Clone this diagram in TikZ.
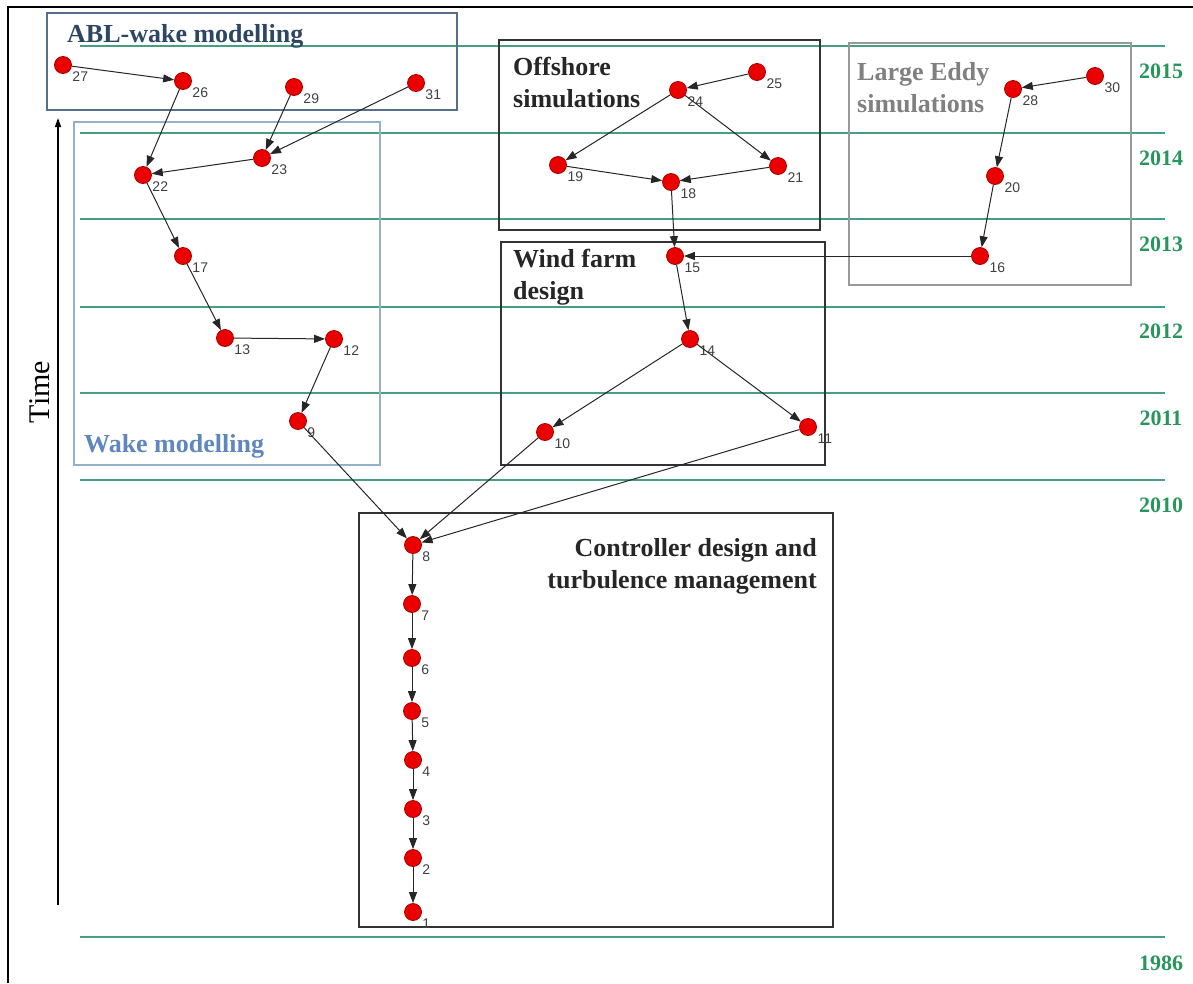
\documentclass[tikz,border=0pt]{standalone}
\usepackage{fontspec}
\setmainfont{Liberation Serif}
\newfontfamily\numfont{Liberation Sans}
\usetikzlibrary{arrows.meta}
\definecolor{paperred}{RGB}{235,0,0}
\definecolor{paperedge}{RGB}{165,0,0}
\definecolor{lineteal}{RGB}{70,160,128}
\definecolor{yeargreen}{RGB}{40,150,90}
\definecolor{ablframe}{RGB}{85,110,140}
\definecolor{abltext}{RGB}{45,70,100}
\definecolor{wakeframe}{RGB}{150,175,205}
\definecolor{waketext}{RGB}{95,135,190}
\begin{document}
\begin{tikzpicture}[x=1pt, y=-1pt,
  paper/.style={circle, draw=paperedge, fill=paperred, line width=0.8pt, minimum size=17pt, inner sep=0pt, label={[numlabel]south east:#1}},
  numlabel/.style={anchor=north west, inner sep=0pt, xshift=3pt, font=\numfont\fontsize{14}{14}\selectfont, text=black!75},
  cite/.style={-{Triangle[length=11pt,width=8pt]}, draw=black!85, line width=1pt},
  yearline/.style={draw=lineteal, line width=1.5pt},
  yeartext/.style={font=\bfseries\fontsize{22}{22}\selectfont, text=yeargreen},
  groupbox/.style={line width=1.6pt},
  grouptitle/.style={font=\bfseries\fontsize{26}{32}\selectfont, inner sep=0pt, align=left}]
  \useasboundingbox (0,0) rectangle (1193,983);
  \draw[line width=1.2pt] (8,983) -- (8,7) -- (1193,7);

  % years
  \draw[yearline] (80,46) -- (1165,46);
  \draw[yearline] (80,133) -- (1165,133);
  \draw[yearline] (80,219) -- (1165,219);
  \draw[yearline] (80,307) -- (1165,307);
  \draw[yearline] (80,393) -- (1165,393);
  \draw[yearline] (80,480) -- (1165,480);
  \draw[yearline] (80,937) -- (1165,937);
  \node (y2015) at (1161,71) [yeartext] {2015};
  \node (y2014) at (1161,158) [yeartext] {2014};
  \node (y2013) at (1161,244) [yeartext] {2013};
  \node (y2012) at (1161,331) [yeartext] {2012};
  \node (y2011) at (1161,418) [yeartext] {2011};
  \node (y2010) at (1161,505) [yeartext] {2010};
  \node (y1986) at (1161,963) [yeartext] {1986};

  % time axis
  \coordinate (tbot) at (58,905);
  \coordinate (ttop) at (58,118);
  \draw[-{Triangle[length=9pt,width=6pt]}, line width=1.3pt] (tbot) -- (ttop);
  \node (time) at (40,392) [rotate=90, font=\fontsize{30}{30}\selectfont] {Time};

  % groups
  \draw[groupbox, draw=ablframe] (47,13) rectangle (457,110);
  \node (ablT) at (67,42) [grouptitle, text=abltext, anchor=base west] {ABL-wake modelling};
  \draw[groupbox, draw=wakeframe] (74,122) rectangle (380,465);
  \node (wakeT) at (84,452) [grouptitle, text=waketext, anchor=base west] {Wake modelling};
  \draw[groupbox, draw=black!80] (499,40) rectangle (820,230);
  \node (offT) at (513,57) [grouptitle, text=black!85, anchor=north west] {Offshore\\simulations};
  \draw[groupbox, draw=black!80] (501,242) rectangle (825,465);
  \node (farmT) at (513,249) [grouptitle, text=black!85, anchor=north west] {Wind farm\\design};
  \draw[groupbox, draw=black!40] (849,43) rectangle (1131,285);
  \node (lesT) at (857,62) [grouptitle, text=black!50, anchor=north west] {Large Eddy\\simulations};
  \draw[groupbox, draw=black!80] (359,513) rectangle (833,927);
  \node (ctrlT) at (817,538) [grouptitle, text=black!85, align=right, anchor=north east] {Controller design and\\turbulence management};

  % papers
  \node (p1) at (413,912) [paper=1] {};
  \node (p2) at (413,858) [paper=2] {};
  \node (p3) at (413,809) [paper=3] {};
  \node (p4) at (413,760) [paper=4] {};
  \node (p5) at (412,711) [paper=5] {};
  \node (p6) at (412,658) [paper=6] {};
  \node (p7) at (412,604) [paper=7] {};
  \node (p8) at (413,545) [paper=8] {};
  \node (p9) at (298,421) [paper=9] {};
  \node (p10) at (545,432) [paper=10] {};
  \node (p11) at (808,427) [paper=11] {};
  \node (p12) at (334,339) [paper=12] {};
  \node (p13) at (225,338) [paper=13] {};
  \node (p14) at (690,339) [paper=14] {};
  \node (p15) at (675,256) [paper=15] {};
  \node (p16) at (980,256) [paper=16] {};
  \node (p17) at (183,256) [paper=17] {};
  \node (p18) at (671,182) [paper=18] {};
  \node (p19) at (558,165) [paper=19] {};
  \node (p20) at (995,176) [paper=20] {};
  \node (p21) at (778,166) [paper=21] {};
  \node (p22) at (143,175) [paper=22] {};
  \node (p23) at (262,158) [paper=23] {};
  \node (p24) at (678,90) [paper=24] {};
  \node (p25) at (757,72) [paper=25] {};
  \node (p26) at (183,81) [paper=26] {};
  \node (p27) at (63,65) [paper=27] {};
  \node (p28) at (1013,89) [paper=28] {};
  \node (p29) at (294,87) [paper=29] {};
  \node (p30) at (1095,76) [paper=30] {};
  \node (p31) at (416,83) [paper=31] {};

  % citations
  \draw[cite] (p27) -- (p26);
  \draw[cite] (p26) -- (p22);
  \draw[cite] (p29) -- (p23);
  \draw[cite] (p31) -- (p23);
  \draw[cite] (p23) -- (p22);
  \draw[cite] (p22) -- (p17);
  \draw[cite] (p17) -- (p13);
  \draw[cite] (p13) -- (p12);
  \draw[cite] (p12) -- (p9);
  \draw[cite] (p9) -- (p8);
  \draw[cite] (p10) -- (p8);
  \draw[cite] (p11) -- (p8);
  \draw[cite] (p25) -- (p24);
  \draw[cite] (p24) -- (p19);
  \draw[cite] (p24) -- (p21);
  \draw[cite] (p19) -- (p18);
  \draw[cite] (p21) -- (p18);
  \draw[cite] (p18) -- (p15);
  \draw[cite] (p16) -- (p15);
  \draw[cite] (p30) -- (p28);
  \draw[cite] (p28) -- (p20);
  \draw[cite] (p20) -- (p16);
  \draw[cite] (p15) -- (p14);
  \draw[cite] (p14) -- (p10);
  \draw[cite] (p14) -- (p11);
  \draw[cite] (p8) -- (p7);
  \draw[cite] (p7) -- (p6);
  \draw[cite] (p6) -- (p5);
  \draw[cite] (p5) -- (p4);
  \draw[cite] (p4) -- (p3);
  \draw[cite] (p3) -- (p2);
  \draw[cite] (p2) -- (p1);
\end{tikzpicture}
\end{document}
